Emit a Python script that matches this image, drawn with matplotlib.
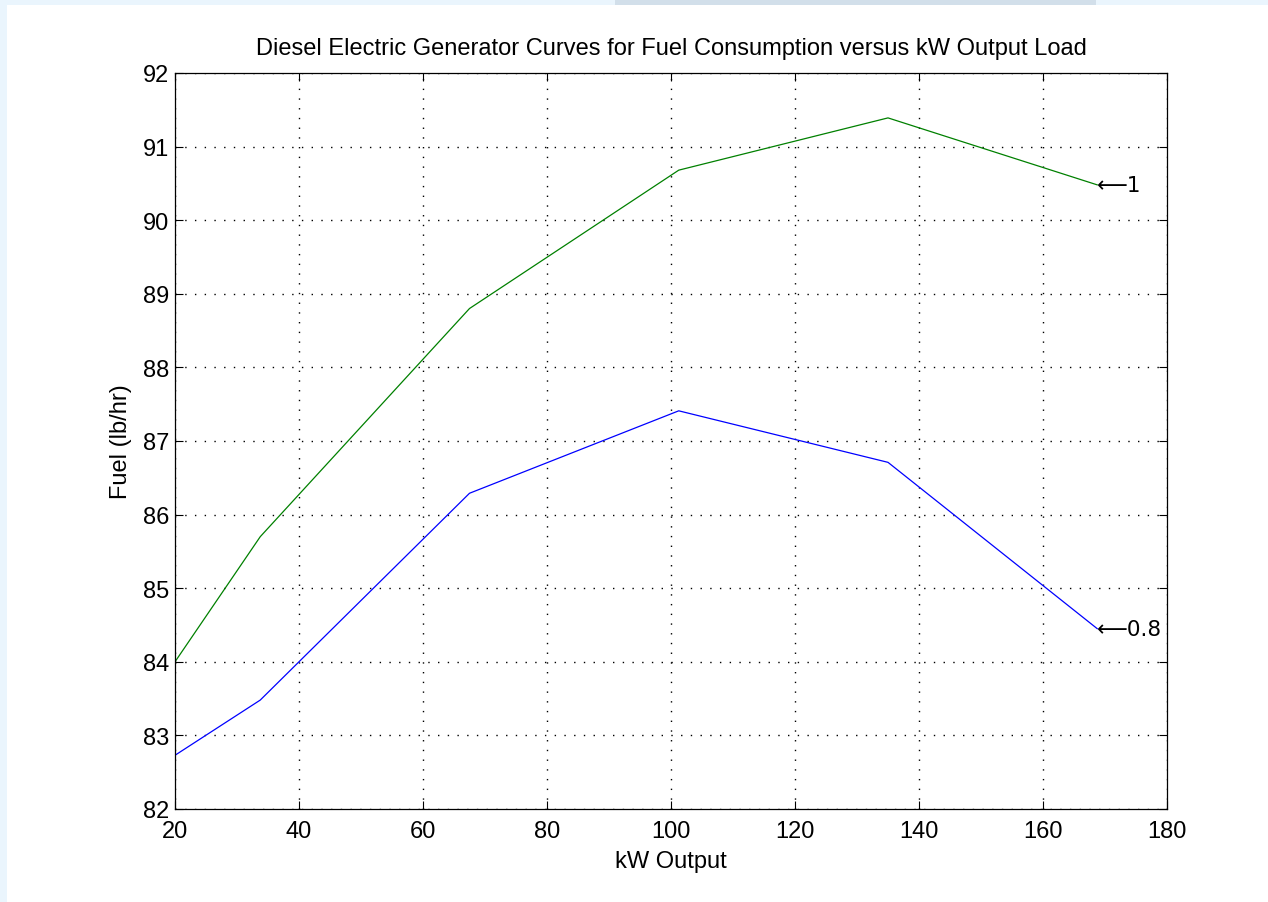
import matplotlib
matplotlib.use("Agg")
import matplotlib.pyplot as plt
from matplotlib.patches import Rectangle

plt.rcParams["font.family"] = ["Liberation Sans", "DejaVu Sans"]

# Load points (kW) and fuel consumption (lb/hr) for the two power factors
kw_output = [20, 33.75, 67.5, 101.25, 135, 168.75]
fuel_pf_1 = [84.0, 85.7, 88.8, 90.68, 91.39, 90.48]
fuel_pf_08 = [82.73, 83.48, 86.29, 87.41, 86.71, 84.45]

x_ticks = [20, 40, 60, 80, 100, 120, 140, 160, 180]
y_ticks = [82, 83, 84, 85, 86, 87, 88, 89, 90, 91, 92]

FS = 17

fig = plt.figure(figsize=(12.68, 9.03), dpi=100)
fig.patch.set_facecolor("white")

# light blue page border seen around the screenshot
fig.add_artist(Rectangle((0, 0), 7 / 1268, 1, transform=fig.transFigure,
                         facecolor="#eaf5fd", edgecolor="none", zorder=0))
fig.add_artist(Rectangle((0, 1 - 6 / 903), 1, 6 / 903, transform=fig.transFigure,
                         facecolor="#eaf5fd", edgecolor="none", zorder=0))
fig.add_artist(Rectangle((615 / 1268, 1 - 6 / 903), 481 / 1268, 6 / 903,
                         transform=fig.transFigure,
                         facecolor="#d2dfea", edgecolor="none", zorder=0))

ax = fig.add_axes([175 / 1268, 1 - 810 / 903, 992 / 1268, 736 / 903])

ax.plot(kw_output, fuel_pf_1, color="#008000", linewidth=0.9)
ax.plot(kw_output, fuel_pf_08, color="#0000ff", linewidth=0.9)

# labels at the curve ends, like MATLAB's text(x, y, '\leftarrow 1')
ax.text(kw_output[-1], fuel_pf_1[-1], "\u27f51", ha="left", va="center",
        fontsize=15.5, family=["DejaVu Sans"])
ax.text(kw_output[-1], fuel_pf_08[-1], "\u27f50.8", ha="left", va="center",
        fontsize=15.5, family=["DejaVu Sans"])

ax.set_xlim(20, 180)
ax.set_ylim(82, 92)
ax.set_xticks(x_ticks)
ax.set_yticks(y_ticks)
ax.tick_params(direction="in", top=True, right=True, length=6, width=0.8,
               labelsize=FS, pad=4)
ax.tick_params(axis="x", pad=8)
for s in ax.spines.values():
    s.set_linewidth(0.9)
ax.grid(True, color="black", linestyle=(0, (1, 6)), linewidth=1.0)

ax.set_title("Diesel Electric Generator Curves for Fuel Consumption versus kW Output Load",
             fontsize=FS, pad=14)
ax.set_xlabel("kW Output", fontsize=FS, labelpad=6)
ax.set_ylabel("Fuel (lb/hr)", fontsize=FS, labelpad=8)

fig.savefig("out.png", dpi=100)
